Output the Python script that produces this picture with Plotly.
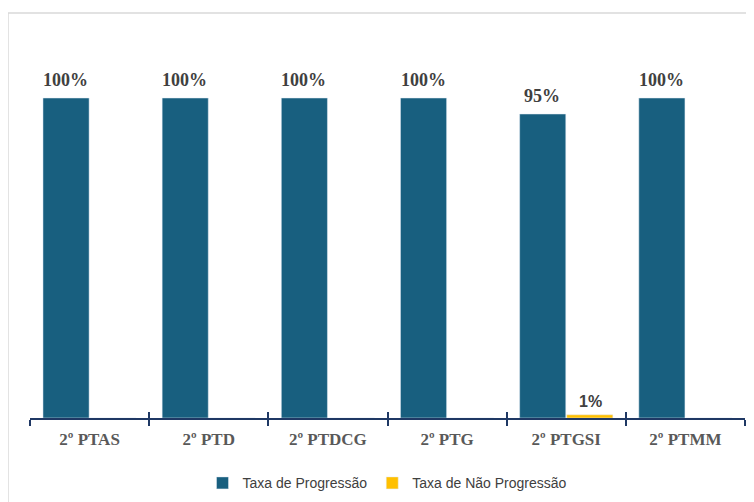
import plotly.graph_objects as go

categories = ["2º PTAS", "2º PTD", "2º PTDCG", "2º PTG", "2º PTGSI", "2º PTMM"]
taxa_progressao = [1.00, 1.00, 1.00, 1.00, 0.95, 1.00]
taxa_nao_progressao = [0.0, 0.0, 0.0, 0.0, 0.01, 0.0]

def pct(v):
    return f"{round(v*100)}%"

fig = go.Figure()
fig.add_trace(go.Bar(
    x=categories, y=taxa_progressao, name="Taxa de Progressão",
    marker=dict(color="#185F7F"),
))
fig.add_trace(go.Bar(
    x=categories, y=taxa_nao_progressao, name="Taxa de Não Progressão",
    marker=dict(color="#FFC000"),
))
# invisible helper trace for the upper half of the crossing tick marks
fig.add_trace(go.Scatter(
    x=categories, y=[0]*len(categories), xaxis="x2", mode="markers",
    marker=dict(opacity=0), showlegend=False, hoverinfo="skip",
))

annotations = []
for c, v in zip(categories, taxa_progressao):
    if v > 0:
        annotations.append(dict(x=c, y=v, xref="x", yref="y", text=pct(v), showarrow=False,
                                xshift=-24, yshift=18, yanchor="middle",
                                font=dict(family="Liberation Serif", size=18, color="#404040", weight="bold")))
for c, v in zip(categories, taxa_nao_progressao):
    if v > 0:
        annotations.append(dict(x=c, y=v, xref="x", yref="y", text=pct(v), showarrow=False,
                                xshift=24, yshift=13, yanchor="middle",
                                font=dict(family="Liberation Sans", size=16, color="#404040", weight="bold")))

fig.update_layout(
    width=746, height=494,
    margin=dict(l=22, r=9, t=26, b=84, autoexpand=False),
    paper_bgcolor="white", plot_bgcolor="white",
    barmode="group", bargap=0.21, bargroupgap=0.02,
    showlegend=True,
    legend=dict(orientation="h", x=0.5, xanchor="center", y=-0.17, yanchor="middle",
                font=dict(family="Liberation Sans", size=14, color="#404040"),
                itemwidth=30),
    xaxis=dict(showline=True, linecolor="#1F3864", linewidth=2, range=[-0.5, 5.5],
               automargin=False,
               ticks="outside", tickson="boundaries", ticklen=6, tickcolor="#1F3864", tickwidth=2,
               ticklabelstandoff=5,
               tickfont=dict(family="Liberation Serif", size=17, color="#595959", weight="bold"),
               showgrid=False),
    xaxis2=dict(overlaying="x", side="bottom", range=[-0.5, 5.5], showline=False,
                automargin=False,
                ticks="inside", tickson="boundaries", ticklen=6, tickcolor="#1F3864", tickwidth=2,
                showticklabels=False, showgrid=False),
    yaxis=dict(range=[0, 1.2], visible=False, showgrid=False, automargin=False),
    annotations=annotations,
    shapes=[dict(type="rect", xref="paper", yref="paper",
                 x0=-0.0308, x1=1.05, y0=-0.3, y1=1.0547,
                 line=dict(color="#D9D9D9", width=1.5), fillcolor="rgba(0,0,0,0)", layer="below")],
)

fig.write_html("out.html")
